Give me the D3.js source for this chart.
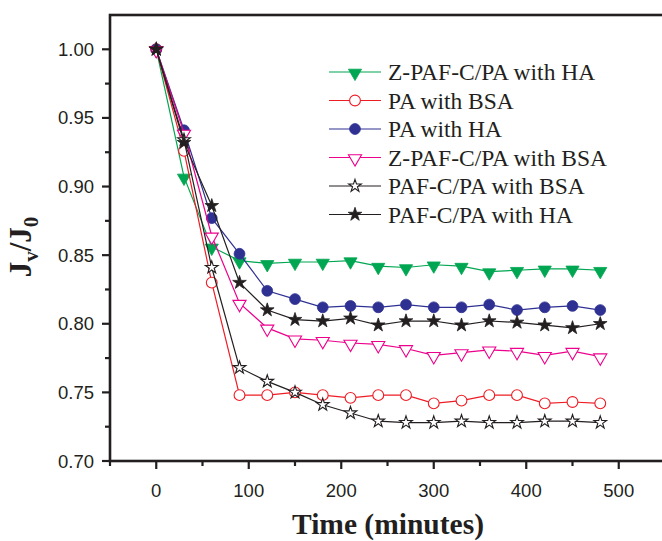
<!DOCTYPE html>
<html lang="en">
<head>
<meta charset="UTF-8">
<title>Jv/J0 vs time</title>
<script src="https://d3js.org/d3.v7.min.js"></script>
<style>
  body { margin: 0; background: #fff; }
  .tick-label { font-family: "Liberation Sans", Arial, sans-serif; font-size: 18.5px; fill: #231f20; }
  .legend-text { font-family: "Liberation Serif", "Times New Roman", serif; font-size: 23.5px; fill: #231f20; }
  .axis-title { font-family: "Liberation Serif", "Times New Roman", serif; font-weight: bold; fill: #231f20; }
</style>
</head>
<body>
<svg id="chart" width="662" height="541"></svg>
<script>
// time points (minutes)
const times = [0, 30, 60, 90, 120, 150, 180, 210, 240, 270, 300, 330, 360, 390, 420, 450, 480];

const zHA   = [1.000, 0.907, 0.856, 0.846, 0.844, 0.845, 0.845, 0.846, 0.842, 0.841, 0.843, 0.842, 0.838, 0.839, 0.840, 0.840, 0.839];
const paBSA = [1.000, 0.926, 0.830, 0.748, 0.748, 0.750, 0.748, 0.746, 0.748, 0.748, 0.742, 0.744, 0.748, 0.748, 0.742, 0.743, 0.742];
const paHA  = [1.000, 0.941, 0.877, 0.851, 0.824, 0.818, 0.812, 0.813, 0.812, 0.814, 0.812, 0.812, 0.814, 0.810, 0.812, 0.813, 0.810];
const zBSA  = [1.000, 0.939, 0.864, 0.815, 0.797, 0.789, 0.788, 0.786, 0.785, 0.782, 0.777, 0.779, 0.781, 0.780, 0.777, 0.780, 0.776];
const pafBSA = [1.000, 0.934, 0.841, 0.768, 0.758, 0.750, 0.741, 0.735, 0.729, 0.728, 0.728, 0.729, 0.728, 0.728, 0.729, 0.729, 0.728];
const pafHA = [1.000, 0.932, 0.886, 0.830, 0.810, 0.803, 0.802, 0.804, 0.799, 0.802, 0.802, 0.799, 0.802, 0.801, 0.799, 0.797, 0.800];

const seriesNames = ["Z-PAF-C/PA with HA", "PA with BSA", "PA with HA", "Z-PAF-C/PA with BSA", "PAF-C/PA with BSA", "PAF-C/PA with HA"];
const seriesValues = [zHA, paBSA, paHA, zBSA, pafBSA, pafHA];
const seriesColors = ["#00a651", "#ee1c25", "#2e3192", "#ec008c", "#231f20", "#231f20"];
const seriesMarkers = ["triDownFilled", "circleOpen", "circleFilled", "triDownOpen", "starOpen", "starFilled"];

const xTicks = [0, 100, 200, 300, 400, 500];
const yTicks = [0.70, 0.75, 0.80, 0.85, 0.90, 0.95, 1.00];

const svg = d3.select('#chart');
const plotLeft = 110, plotTop = 15, plotRight = 665, plotBottom = 461;

const x = d3.scaleLinear().domain([-50, 550]).range([plotLeft, plotRight]);
const y = d3.scaleLinear().domain([0.70, 1.025]).range([plotBottom, plotTop]);

// markers
function markerPath(kind) {
    if (kind.startsWith('circle')) return d3.symbol(d3.symbolCircle, 92)();
    if (kind.startsWith('star')) return d3.symbol(d3.symbolStar, kind === 'starOpen' ? 50 : 58)();
    return d3.symbol(d3.symbolTriangle, 75)();
}
function drawMarker(g, kind, color, cx, cy) {
    const filled = kind.endsWith('Filled');
    const p = g.append('path')
        .attr('d', markerPath(kind))
        .attr('fill', filled ? color : '#fff')
        .attr('stroke', color)
        .attr('stroke-width', filled ? 0.8 : 1.1);
    if (kind.startsWith('tri')) p.attr('transform', `translate(${cx},${cy + 1}) rotate(180)`);
    else p.attr('transform', `translate(${cx},${cy})`);
}

// series
const line = d3.line().x((d, i) => x(times[i])).y(d => y(d));
seriesValues.forEach((vals, s) => {
    const g = svg.append('g');
    g.append('path')
        .attr('d', line(vals))
        .attr('fill', 'none')
        .attr('stroke', seriesColors[s])
        .attr('stroke-width', 1.2);
    vals.forEach((v, i) => drawMarker(g, seriesMarkers[s], seriesColors[s], x(times[i]), y(v)));
});

// frame
svg.append('rect')
    .attr('x', plotLeft).attr('y', plotTop)
    .attr('width', plotRight - plotLeft).attr('height', plotBottom - plotTop)
    .attr('fill', 'none').attr('stroke', '#231f20').attr('stroke-width', 2.6);

// x axis ticks
const xAxis = svg.append('g').attr('transform', `translate(0,${plotBottom})`);
d3.range(-50, 551, 50).forEach(t => {
    const major = t % 100 === 0;
    xAxis.append('line')
        .attr('x1', x(t)).attr('x2', x(t))
        .attr('y1', 0).attr('y2', major ? 8 : 5)
        .attr('stroke', '#231f20').attr('stroke-width', 2.2);
});
xAxis.selectAll('text.tick-label').data(xTicks).join('text')
    .attr('class', 'tick-label')
    .attr('x', d => x(d)).attr('y', 36)
    .attr('text-anchor', 'middle')
    .text(d => d);

// y axis ticks
const yAxis = svg.append('g').attr('transform', `translate(${plotLeft},0)`);
d3.range(0, 13).forEach(k => {
    const t = 0.70 + k * 0.025;
    const major = k % 2 === 0;
    yAxis.append('line')
        .attr('x1', 0).attr('x2', major ? -8 : -5)
        .attr('y1', y(t)).attr('y2', y(t))
        .attr('stroke', '#231f20').attr('stroke-width', 2.2);
});
yAxis.selectAll('text.tick-label').data(yTicks).join('text')
    .attr('class', 'tick-label')
    .attr('x', -16).attr('y', d => y(d))
    .attr('text-anchor', 'end')
    .attr('dominant-baseline', 'central')
    .text(d => d.toFixed(2));

// axis titles
svg.append('text')
    .attr('class', 'axis-title')
    .attr('x', 388).attr('y', 534)
    .attr('text-anchor', 'middle')
    .attr('font-size', 29.5)
    .text('Time (minutes)');

const yt = svg.append('text')
    .attr('class', 'axis-title')
    .attr('transform', 'translate(31,247) rotate(-90)')
    .attr('text-anchor', 'middle')
    .attr('font-size', 31);
yt.append('tspan').text('J');
yt.append('tspan').attr('font-size', 21).attr('dy', 7).text('v');
yt.append('tspan').attr('dy', -7).text('/J');
yt.append('tspan').attr('font-size', 21).attr('dy', 7).text('0');

// legend
const legend = svg.append('g');
seriesNames.forEach((name, s) => {
    const ly = 72 + s * 28.5;
    legend.append('line')
        .attr('x1', 329).attr('x2', 381)
        .attr('y1', ly).attr('y2', ly)
        .attr('stroke', seriesColors[s]).attr('stroke-width', 1.2);
    drawMarker(legend, seriesMarkers[s], seriesColors[s], 355, ly);
    legend.append('text')
        .attr('class', 'legend-text')
        .attr('x', 388).attr('y', ly)
        .attr('dominant-baseline', 'central')
        .text(name);
});
</script>
</body>
</html>
